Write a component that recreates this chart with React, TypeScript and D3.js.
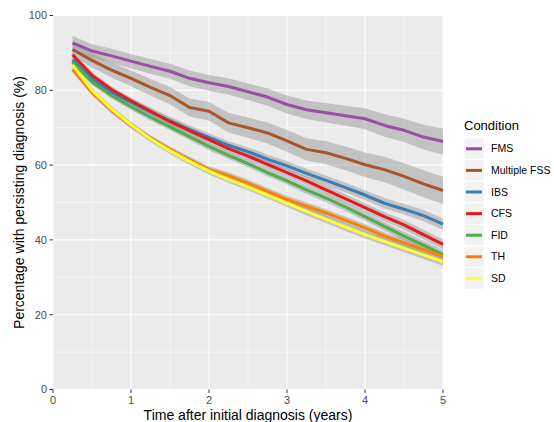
import React from "react";
import * as d3 from "d3";

const years = [0.25, 0.5, 0.75, 1, 1.25, 1.5, 1.75, 2, 2.25, 2.5, 2.75, 3, 3.25, 3.5, 3.75, 4, 4.25, 4.5, 4.75, 5];

const conditions = ["FMS", "Multiple FSS", "IBS", "CFS", "FID", "TH", "SD"];
const colours = ["#984EA3", "#A65628", "#377EB8", "#E41A1C", "#4DAF4A", "#FF7F00", "#FFFF33"];

const fms = [92.7, 90.5, 89.2, 87.8, 86.4, 85.1, 83.2, 82.0, 81.0, 79.6, 78.2, 76.2, 74.8, 74.0, 73.2, 72.4, 70.6, 69.3, 67.5, 66.3];
const multipleFss = [90.9, 88.0, 85.4, 83.2, 80.8, 78.6, 75.4, 74.4, 71.3, 70.0, 68.6, 66.5, 64.2, 63.3, 61.8, 60.1, 58.8, 57.0, 55.0, 53.2];
const ibs = [88.2, 83.0, 79.5, 76.8, 74.2, 71.8, 69.5, 67.4, 65.3, 63.6, 61.6, 59.8, 57.8, 55.9, 54.0, 52.0, 49.8, 48.2, 46.5, 44.2];
const cfs = [89.5, 84.0, 80.2, 77.2, 74.4, 71.6, 69.2, 66.8, 64.4, 62.4, 60.2, 58.0, 55.8, 53.4, 51.0, 48.6, 46.2, 44.0, 41.4, 38.8];
const fid = [87.6, 82.2, 78.6, 75.6, 72.8, 70.2, 67.6, 65.0, 62.6, 60.4, 58.0, 55.8, 53.4, 51.2, 48.8, 46.2, 43.6, 41.0, 38.6, 36.0];
const th = [85.6, 79.4, 74.6, 70.6, 67.2, 64.2, 61.4, 58.8, 57.2, 55.2, 53.0, 50.8, 49.0, 47.2, 45.2, 43.2, 41.0, 39.2, 37.4, 35.6];
const sd = [86.8, 80.0, 75.0, 70.8, 67.0, 63.8, 61.0, 58.4, 56.2, 54.2, 52.0, 49.8, 47.6, 45.5, 43.4, 41.4, 39.6, 37.8, 36.0, 34.2];

// half widths of the confidence bands
const fmsCi = [1.8, 1.8, 1.9, 1.9, 2.0, 2.0, 2.1, 2.1, 2.2, 2.2, 2.3, 2.4, 2.5, 2.6, 2.7, 2.8, 3.0, 3.1, 3.3, 3.5];
const multipleFssCi = [1.8, 1.9, 2.0, 2.1, 2.2, 2.3, 2.4, 2.5, 2.6, 2.7, 2.8, 2.9, 3.0, 3.1, 3.2, 3.3, 3.4, 3.5, 3.6, 3.7];
const ibsCi = [1.0, 1.0, 1.0, 1.0, 1.0, 1.1, 1.1, 1.1, 1.1, 1.2, 1.2, 1.2, 1.2, 1.3, 1.3, 1.3, 1.4, 1.4, 1.5, 1.5];
const cfsCi = [0.9, 0.9, 0.9, 0.9, 1.0, 1.0, 1.0, 1.0, 1.0, 1.1, 1.1, 1.1, 1.1, 1.2, 1.2, 1.2, 1.2, 1.3, 1.3, 1.3];
const fidCi = [0.8, 0.8, 0.8, 0.9, 0.9, 0.9, 0.9, 1.0, 1.0, 1.0, 1.0, 1.0, 1.1, 1.1, 1.1, 1.1, 1.1, 1.2, 1.2, 1.2];
const thCi = [0.7, 0.7, 0.8, 0.8, 0.8, 0.8, 0.9, 0.9, 0.9, 0.9, 0.9, 1.0, 1.0, 1.0, 1.0, 1.0, 1.0, 1.1, 1.1, 1.1];
const sdCi = [0.7, 0.7, 0.8, 0.8, 0.8, 0.8, 0.9, 0.9, 0.9, 0.9, 0.9, 1.0, 1.0, 1.0, 1.0, 1.0, 1.0, 1.1, 1.1, 1.1];

const seriesValues = [fms, multipleFss, ibs, cfs, fid, th, sd];
const seriesCi = [fmsCi, multipleFssCi, ibsCi, cfsCi, fidCi, thCi, sdCi];

const xTicks = [0, 1, 2, 3, 4, 5];
const yTicks = [0, 20, 40, 60, 80, 100];

const W = 554;
const H = 422;
const panel = { left: 53, right: 443, top: 15.5, bottom: 389.5 };
const font = "'Liberation Sans', Arial, sans-serif";

const App = () => {
  const x = d3.scaleLinear().domain([0, 5]).range([panel.left, panel.right]);
  const y = d3.scaleLinear().domain([0, 100]).range([panel.bottom, panel.top]);

  const line = d3.line<number>().x((_, i) => x(years[i])).y(d => y(d));

  const xMinor = d3.range(0.5, 5, 1);
  const yMinor = d3.range(10, 100, 20);

  const legendX = 464;
  const legendTop = 138;
  const keyH = 21.6;

  return (
    <svg width={W} height={H} style={{ position: "absolute", left: 0, top: 0, background: "#fff" }}>
      <rect x={panel.left} y={panel.top} width={panel.right - panel.left} height={panel.bottom - panel.top} fill="#ebebeb" />
      {xMinor.map(t => (
        <line key={"xm" + t} x1={x(t)} x2={x(t)} y1={panel.top} y2={panel.bottom} stroke="#fff" strokeWidth={0.55} />
      ))}
      {yMinor.map(t => (
        <line key={"ym" + t} x1={panel.left} x2={panel.right} y1={y(t)} y2={y(t)} stroke="#fff" strokeWidth={0.55} />
      ))}
      {xTicks.map(t => (
        <line key={"xg" + t} x1={x(t)} x2={x(t)} y1={panel.top} y2={panel.bottom} stroke="#fff" strokeWidth={1.1} />
      ))}
      {yTicks.map(t => (
        <line key={"yg" + t} x1={panel.left} x2={panel.right} y1={y(t)} y2={y(t)} stroke="#fff" strokeWidth={1.1} />
      ))}

      {seriesValues.map((vals, s) => {
        const area = d3
          .area<number>()
          .x((_, i) => x(years[i]))
          .y0((d, i) => y(d - seriesCi[s][i]))
          .y1((d, i) => y(d + seriesCi[s][i]));
        return <path key={"band" + s} d={area(vals) || ""} fill="#999999" fillOpacity={0.5} />;
      })}
      {seriesValues.map((vals, s) => (
        <path key={"line" + s} d={line(vals) || ""} fill="none" stroke={colours[s]} strokeWidth={3} strokeLinejoin="round" />
      ))}

      {/* axes */}
      {yTicks.map(t => (
        <g key={"yt" + t}>
          <line x1={panel.left - 3.5} x2={panel.left} y1={y(t)} y2={y(t)} stroke="#333" strokeWidth={1} />
          <text x={panel.left - 6} y={y(t)} dy="0.35em" textAnchor="end" fontSize={11} fill="#4d4d4d" fontFamily={font}>
            {t}
          </text>
        </g>
      ))}
      {xTicks.map(t => (
        <g key={"xt" + t}>
          <line x1={x(t)} x2={x(t)} y1={panel.bottom} y2={panel.bottom + 3.5} stroke="#333" strokeWidth={1} />
          <text x={x(t)} y={panel.bottom + 14} textAnchor="middle" fontSize={11} fill="#4d4d4d" fontFamily={font}>
            {t}
          </text>
        </g>
      ))}
      <text x={(panel.left + panel.right) / 2} y={420} textAnchor="middle" fontSize={14} fill="#000" fontFamily={font}>
        Time after initial diagnosis (years)
      </text>
      <text
        transform={`translate(24, ${(panel.top + panel.bottom) / 2}) rotate(-90)`}
        textAnchor="middle"
        fontSize={14}
        fill="#000"
        fontFamily={font}
      >
        Percentage with persisting diagnosis (%)
      </text>

      {/* legend */}
      <text x={legendX} y={130} fontSize={13} fill="#000" fontFamily={font}>
        Condition
      </text>
      {conditions.map((c, i) => {
        const top = legendTop + i * keyH;
        return (
          <g key={"lg" + c}>
            <rect x={legendX} y={top} width={20} height={keyH} fill="#f2f2f2" stroke="#fff" strokeWidth={1} />
            <line x1={legendX + 2} x2={legendX + 18} y1={top + keyH / 2} y2={top + keyH / 2} stroke={colours[i]} strokeWidth={3} />
            <text x={legendX + 27} y={top + keyH / 2} dy="0.35em" fontSize={10.5} fill="#000" fontFamily={font}>
              {c}
            </text>
          </g>
        );
      })}
    </svg>
  );
};

export default App;
